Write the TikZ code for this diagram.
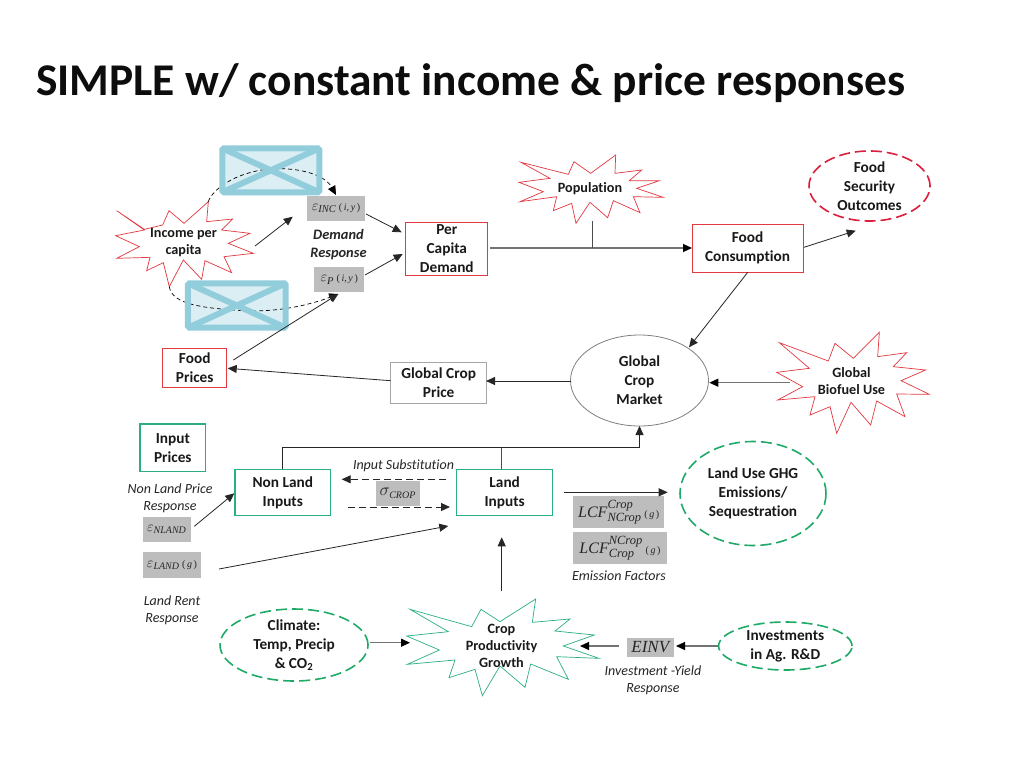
\documentclass[tikz,border=0pt]{standalone}
\usepackage{fontspec}
\setmainfont{Carlito}[Ligatures=NoCommon]
\newfontfamily\ser{Liberation Serif}
\newcommand{\subt}[2]{\mbox{\fontsize{#1}{#1}\selectfont\ser\itshape #2}}
\newcommand{\argt}[1]{\mbox{\fontsize{10}{10}\selectfont\ser #1}}
\usetikzlibrary{arrows.meta,shapes.geometric}
\definecolor{redl}{HTML}{E2383F}
\definecolor{crim}{HTML}{DC1E3C}
\definecolor{grn}{HTML}{2BAF80}
\definecolor{grnd}{HTML}{1FAA68}
\definecolor{grayb}{HTML}{BDBDBD}
\definecolor{phb}{HTML}{92CDDC}
\definecolor{phf}{HTML}{DAEEF3}
\tikzset{
  tx/.style={font=\fontsize{15.3}{19}\selectfont\bfseries,align=center,inner sep=0pt,text=black!90,execute at begin node={\rule{0pt}{18pt}}},
  txs/.style={font=\fontsize{14.2}{17}\selectfont\bfseries,align=center,inner sep=0pt,text=black!90},
  itx/.style={font=\fontsize{14}{17}\selectfont\itshape,align=center,inner sep=0pt,text=black!85},
  rbox/.style={tx,draw=redl,line width=1pt,rectangle,fill=white},
  gbox/.style={tx,draw=grn,line width=1.1pt,rectangle,fill=white},
  greybox/.style={tx,draw=black!35,line width=1pt,rectangle,fill=white},
  mbox/.style={fill=grayb,inner sep=0pt,rectangle,text=black!85},
  dell/.style={tx,ellipse,inner sep=0pt,line width=1.6pt,dash pattern=on 11pt off 5pt},
  arr/.style={-{Triangle[length=9pt,width=8pt]},line width=0.8pt,black!85},
  garrow/.style={-{Triangle[length=9pt,width=8pt,black]},line width=1.2pt,black!55},
  dasharr/.style={-{Triangle[length=9pt,width=8pt]},line width=0.9pt,black!85,dash pattern=on 7pt off 4pt},
  ln/.style={line width=0.9pt,black!70},
  burstr/.style={draw=redl,line width=0.7pt,fill=white,line join=miter},
  burstg/.style={draw=grn,line width=0.7pt,fill=white,line join=miter},
  phfill/.style={fill=phf,inner sep=0pt,rectangle},
  phline/.style={draw=phb,line width=6pt},
  curv/.style={line width=0.7pt,black,dash pattern=on 4pt off 3pt}
}
\begin{document}
\begin{tikzpicture}[x=1pt,y=-1pt]
\useasboundingbox[fill=white] (0,0) rectangle (1024,768);
% title
\node[anchor=west,inner sep=0pt,font=\fontsize{45.4}{52}\selectfont\bfseries,text=black!95] (title) at (36,83.5) {SIMPLE w/ constant income \& price responses};

% starbursts
\begin{scope}[shift={(100,140)},scale=0.33333]
\draw[burstr] (50,212)--(133,268)--(188,255)--(207,212)--(252,250)--(325,185)--(320,245)--(398,237)--(365,270)--(450,280)--(385,310)--(460,340)--(372,350)--(395,398)--(315,362)--(305,418)--(250,360)--(208,440)--(190,368)--(140,392)--(150,352)--(50,355)--(118,320)--(47,287)--(133,270)--cycle;
\end{scope}
\begin{scope}[shift={(500,140)},scale=0.33333]
\draw[burstr] (63,67)--(205,103)--(222,65)--(272,100)--(347,45)--(345,100)--(425,90)--(388,122)--(478,122)--(410,145)--(490,172)--(400,170)--(420,218)--(340,182)--(323,233)--(270,187)--(228,250)--(215,190)--(160,212)--(170,170)--(60,185)--(130,155)--(57,127)--(150,115)--cycle;
\draw[burstr] (838,608)--(985,663)--(1005,610)--(1060,655)--(1138,577)--(1133,650)--(1220,638)--(1180,680)--(1277,690)--(1203,722)--(1288,763)--(1190,762)--(1215,830)--(1130,783)--(1112,855)--(1053,787)--(1010,880)--(990,800)--(930,825)--(945,770)--(833,780)--(908,740)--(830,697)--(928,685)--cycle;
\end{scope}
\begin{scope}[shift={(400,430)},scale=0.33333]
\draw[burstg] (30,538)--(215,590)--(243,538)--(300,575)--(407,507)--(397,577)--(510,567)--(465,603)--(583,615)--(490,648)--(597,685)--(470,680)--(505,748)--(392,702)--(375,772)--(300,708)--(247,797)--(225,718)--(147,743)--(165,690)--(22,703)--(118,660)--(20,618)--(145,605)--cycle;
\end{scope}
\node[txs] (income) at (183.5,243) {Income per\\capita};
\node[txs] (population) at (590,189) {Population};
\node[txs] (biofuel) at (851.5,381) {Global\\Biofuel Use};
\node[txs] (cropprod) at (501.5,645.5) {Crop\\Productivity\\Growth};

% picture placeholders
\node[phfill,minimum width=96.5pt,minimum height=43.5pt] (imgtop) at (270.8,170.3) {};
\node[phfill,minimum width=97.3pt,minimum height=44pt] (imgbot) at (236.8,305.5) {};
\draw[curv,-{Triangle[length=9pt,width=8pt,black]}] (208.3,201.7) .. controls (212,190) and (235,172) .. (270,169) .. controls (300,167) and (325,175) .. (336,195);
\draw[curv,-{Triangle[length=9pt,width=8pt,black]}] (169.3,286.7) .. controls (172,305) and (205,308) .. (240,310.5) .. controls (275,313) and (310,305) .. (338.3,294);
\draw[phline,rounded corners=1.5pt] (imgtop.north west) rectangle (imgtop.south east);
\draw[phline] (imgtop.north west) -- (imgtop.south east) (imgtop.north east) -- (imgtop.south west);
\draw[phline,rounded corners=1.5pt] (imgbot.north west) rectangle (imgbot.south east);
\draw[phline] (imgbot.north west) -- (imgbot.south east) (imgbot.north east) -- (imgbot.south west);

% boxes
\node[rbox,minimum width=82.3pt,minimum height=52.7pt] (pcd) at (446.8,248.7) {Per\\Capita\\Demand};
\node[rbox,minimum width=64pt,minimum height=39pt] (foodprices) at (194.7,367.5) {Food\\Prices};
\node[greybox,minimum width=96pt,minimum height=40.5pt] (gcp) at (438.7,383) {Global Crop\\Price};
\node[rbox,minimum width=111pt,minimum height=48pt] (fc) at (747.5,248) {Food\\Consumption};
\node[gbox,minimum width=65.7pt,minimum height=47.7pt] (inputprices) at (172.8,447.8) {Input\\Prices};
\node[gbox,minimum width=95.7pt,minimum height=46pt] (nonland) at (282.8,492.5) {Non Land\\Inputs};
\node[gbox,minimum width=96pt,minimum height=46pt] (land) at (504.7,492.5) {Land\\Inputs};

% ellipses
\node[dell,draw=crim,minimum width=121pt,minimum height=70pt] (security) at (869.5,186) {Food\\Security\\Outcomes};
\node[tx,ellipse,draw=black!50,line width=0.8pt,inner sep=0pt,minimum width=138pt,minimum height=91pt] (market) at (639.5,380.5) {Global\\Crop\\Market};
\node[dell,draw=grnd,minimum width=148pt,minimum height=68pt] (climate) at (294,645) {Climate:\\Temp, Precip\\\& CO\textsubscript{2}};
\node[dell,draw=grnd,minimum width=146pt,minimum height=104pt] (ghg) at (753,493.5) {Land Use GHG\\Emissions/\\Sequestration};
\node[dell,draw=grnd,minimum width=133.4pt,minimum height=48pt] (invest) at (785.3,646) {Investments\\in Ag. R\&D};

% grey parameter boxes
\node[mbox,minimum width=58pt,minimum height=25.3pt,font=\fontsize{15}{16}\selectfont] (epsinc) at (336,208.3) {$\varepsilon_{\subt{10.5}{INC}}$\,\argt{(\,\textit{i},\,\textit{y}\,)}};
\node[mbox,minimum width=50.3pt,minimum height=25.6pt,font=\fontsize{15}{16}\selectfont] (epsp) at (339.2,279.5) {$\varepsilon_{\subt{10.5}{P}}$\,\argt{(\,\textit{i},\,\textit{y}\,)}};
\node[mbox,minimum width=47.7pt,minimum height=25.3pt,font=\fontsize{15}{16}\selectfont] (nland) at (166.8,529.3) {$\varepsilon_{\subt{10}{NLAND}}$};
\node[mbox,minimum width=58pt,minimum height=25.4pt,font=\fontsize{15}{16}\selectfont] (eland) at (172,565) {$\varepsilon_{\subt{10}{LAND}}$\,\argt{(\,\textit{g}\,)}};
\node[mbox,minimum width=43.7pt,minimum height=25.3pt,font=\fontsize{17}{18}\selectfont] (sigma) at (397.8,493.3) {$\sigma_{\subt{10}{CROP}}$};
\node[mbox,minimum width=90.7pt,minimum height=32.3pt,font=\fontsize{16}{18}\selectfont] (lcfa) at (618.7,512.2) {$\subt{16}{LCF}^{\subt{12.5}{Crop}}_{\subt{12.5}{NCrop}}$\,\argt{(\,\textit{g}\,)}};
\node[mbox,minimum width=93.4pt,minimum height=32pt,font=\fontsize{16}{18}\selectfont] (lcfb) at (620,548) {$\subt{16}{LCF}^{\subt{12.5}{NCrop}}_{\subt{12.5}{Crop}}$\,\argt{(\,\textit{g}\,)}};
\node[mbox,minimum width=46.7pt,minimum height=18.7pt] (einv) at (650.3,647.3) {\subt{17}{EINV}};

% labels
\node[itx,font=\fontsize{14.4}{17.5}\selectfont\bfseries\itshape] (demandresp) at (338.5,244.5) {Demand\\Response};
\node[itx] (nlresp) at (170,498.5) {Non Land Price\\Response};
\node[itx] (inputsub) at (403.5,466) {Input Substitution};
\node[itx] (lrresp) at (172,610.5) {Land Rent\\Response};
\node[itx] (emfac) at (619,576) {Emission Factors};
\node[itx] (invresp) at (653,680.5) {Investment -Yield\\Response};

% connector end points
\coordinate (incA) at (255,246); \coordinate (incB) at (292.7,216.7);
\coordinate (einA) at (366,214); \coordinate (pcdA) at (401.7,232.3);
\coordinate (epA) at (365,275); \coordinate (pcdB) at (402.7,254);
\coordinate (fpA) at (233.3,360); \coordinate (epB) at (338.3,294);
\coordinate (gcpW) at (390.7,380.7); \coordinate (fpE) at (227.7,368.3);
\coordinate (gcpE) at (486,381); \coordinate (mktW) at (571,381);
\coordinate (pcdE) at (490,248); \coordinate (fcW) at (692,248);
\coordinate (popS) at (592.3,221); \coordinate (popJ) at (592.3,248);
\coordinate (fcE) at (804,247.3); \coordinate (secS) at (855.7,230.7);
\coordinate (fcS) at (747.7,272.3); \coordinate (mktN) at (689,347.3);
\coordinate (bioW) at (790,382.7); \coordinate (mktE) at (709.3,382.7);
\coordinate (nlN) at (282.7,469); \coordinate (nlT) at (282.7,447.3);
\coordinate (mktT) at (639.5,447.3); \coordinate (mktS) at (639.5,426);
\coordinate (lnN) at (501.7,469); \coordinate (lnT) at (501.7,447.3);
\coordinate (subA) at (446,479.3); \coordinate (subB) at (341.7,479.3);
\coordinate (subC) at (347.7,507); \coordinate (subD) at (450,507);
\coordinate (nlA) at (194.3,526.3); \coordinate (nlW) at (234.3,493.3);
\coordinate (elA) at (219,569); \coordinate (lnW) at (448.3,526);
\coordinate (cpN) at (501.7,591); \coordinate (lnS) at (501.7,537.3);
\coordinate (lnE) at (564,492.3); \coordinate (ghgW) at (667.7,492.3);
\coordinate (clE) at (370,642.7); \coordinate (cpW) at (410,642.7);
\coordinate (invW) at (718.3,646); \coordinate (einE) at (676,646);
\coordinate (einW) at (619.3,646); \coordinate (cpE) at (580,646);

% connectors
\draw[arr] (incA) -- (incB);
\draw[arr] (einA) -- (pcdA);
\draw[arr] (epA) -- (pcdB);
\draw[arr] (fpA) -- (epB);
\draw[arr] (gcpW) -- (fpE);
\draw[arr] (mktW) -- (gcpE);
\draw[garrow] (pcdE) -- (fcW);
\draw[ln] (popS) -- (popJ);
\draw[arr] (fcE) -- (secS);
\draw[arr] (fcS) -- (mktN);
\draw[garrow] (bioW) -- (mktE);
\draw[ln] (lnN) -- (lnT);
\draw[arr] (nlN) -- (nlT) -- (mktT) -- (mktS);
\draw[dasharr] (subA) -- (subB);
\draw[dasharr] (subC) -- (subD);
\draw[arr] (nlA) -- (nlW);
\draw[arr] (elA) -- (lnW);
\draw[arr] (cpN) -- (lnS);
\draw[arr] (lnE) -- (ghgW);
\draw[garrow] (clE) -- (cpW);
\draw[garrow] (invW) -- (einE);
\draw[garrow] (einW) -- (cpE);
\end{tikzpicture}
\end{document}
